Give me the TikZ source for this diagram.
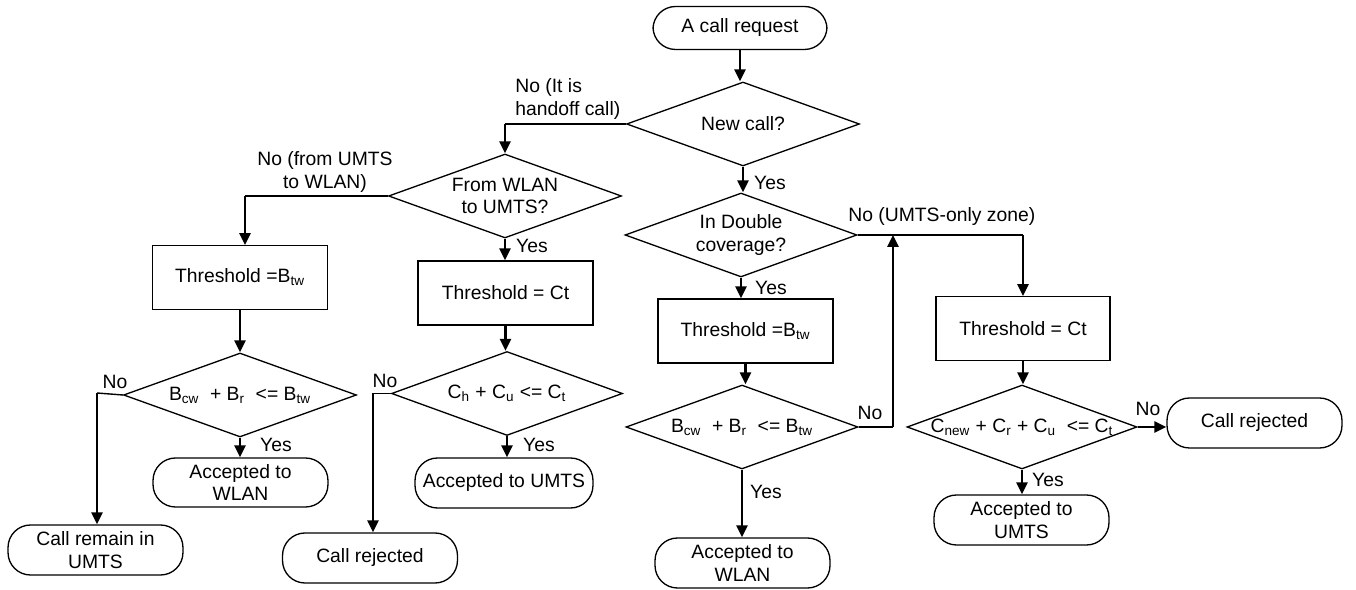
\documentclass[tikz,border=0pt]{standalone}
\usepackage{fontspec}
\setmainfont{Liberation Sans}
\usetikzlibrary{arrows.meta,shapes.geometric}
\begin{document}
\begin{tikzpicture}[x=0.02cm,y=-0.02cm,
  every node/.style={font=\fontsize{11}{13}\selectfont},
  term/.style={draw,line width=0.75pt,rounded corners=0.45cm,minimum width=3.5cm,minimum height=1cm,align=center,inner sep=1pt},
  proc/.style={draw,line width=0.75pt,minimum width=3.5cm,minimum height=1.27cm,align=center},
  dec/.style={draw,line width=0.75pt,diamond,minimum width=4.66cm,minimum height=1.68cm,inner sep=0pt},
  dectext/.style={align=center,inner sep=0pt},
  conn/.style={line width=1.5pt,-{Triangle[length=0.24cm,width=0.22cm]}},
  hline/.style={line width=0.8pt},
  lbl/.style={inner sep=0pt,align=center}
]
\useasboundingbox (0,0) rectangle (1356,590);

% nodes
\node[term,minimum width=3.48cm,minimum height=0.86cm] (start) at (740,28) {A call request};

\node[dec] (d1) at (743,124) {};
\node[dectext] (d1t) at (d1) {New call?};

\node[dec] (d2) at (505,196) {};
\node[dectext] (d2t) at (d2) {From WLAN\\to UMTS?};

\node[proc] (b1) at (240,277.5) {Threshold =B\textsubscript{tw}};
\node[dec] (d3) at (240,395) {};
\node[dectext] (d3t) at (d3) {B\textsubscript{cw}\ \ + B\textsubscript{r}\ \ <= B\textsubscript{tw}};
\node[term] (t1) at (95.5,550) {Call remain in\\UMTS};
\node[term,minimum height=0.98cm] (t2) at (240.5,482.5) {Accepted to\\WLAN};

\node[proc,minimum height=1.28cm] (b2) at (505.5,293) {Threshold = Ct};
\node[dec,minimum width=4.62cm] (d4) at (507,393.5) {};
\node[dectext] (d4t) at (d4) {C\textsubscript{h} + C\textsubscript{u} <= C\textsubscript{t}};
\node[term] (t3) at (370,558) {Call rejected};
\node[term,minimum width=3.56cm] (t4) at (504,483) {Accepted to UMTS};

\node[dec,minimum width=4.64cm] (d5) at (741,235) {};
\node[dectext] (d5t) at (d5) {In Double\\coverage?};
\node[proc,minimum height=1.28cm] (b3) at (745.5,331) {Threshold =B\textsubscript{tw}};
\node[dec,minimum width=4.64cm] (d6) at (742,427) {};
\node[dectext] (d6t) at (d6) {B\textsubscript{cw}\ \ + B\textsubscript{r}\ \ <= B\textsubscript{tw}};
\node[term] (t5) at (742.5,563) {Accepted to\\WLAN};

\node[proc,minimum width=3.48cm] (b4) at (1023,328.5) {Threshold = Ct};
\node[dec,minimum width=4.6cm] (d7) at (1022,427) {};
\node[dectext] (d7t) at (d7) {C\textsubscript{new} + C\textsubscript{r} + C\textsubscript{u}\ \ <= C\textsubscript{t}};
\node[term] (t6) at (1254.5,423) {Call rejected};
\node[term] (t7) at (1021.5,520) {Accepted to\\UMTS};

% junction coordinates
\coordinate (j1) at (d2.north |- d1.west);
\coordinate (j2) at (245,196);
\coordinate (j3) at (97,393);
\coordinate (j4) at (373,393.5);
\coordinate (j5) at (b4.north |- d5.east);
\coordinate (j6) at (893,427);

% connectors
\draw[conn] (start.south) -- (start.south |- d1.north);
\draw[hline] (d1.west) -- (j1);
\draw[conn] (j1) -- (d2.north);
\draw[conn] (d1.south) -- (d1.south |- d5.north);

\draw[hline] (d2.west) -- (j2);
\draw[conn] (j2) -- (j2 |- b1.north);
\draw[conn] (d2.south) -- (d2.south |- b2.north);

\draw[conn] (b1.south) -- (b1.south |- d3.north);
\draw[hline] (d3.west) -- (j3);
\draw[conn] (j3) -- (j3 |- t1.north);
\draw[conn] (d3.south) -- (d3.south |- t2.north);

\draw[conn] (b2.south) -- (b2.south |- d4.north);
\draw[hline] (d4.west) -- (j4);
\draw[conn] (j4) -- (j4 |- t3.north);
\draw[conn] (d4.south) -- (d4.south |- t4.north);

\draw[conn] (d5.south) -- (d5.south |- b3.north);
\draw[hline] (d5.east) -- (j5);
\draw[conn] (j5) -- (b4.north);
\draw[conn] (b3.south) -- (b3.south |- d6.north);
\draw[conn] (d6.south) -- (d6.south |- t5.north);
\draw[hline] (d6.east) -- (j6);
\draw[conn] (j6) -- (j6 |- d5.east);

\draw[conn] (b4.south) -- (b4.south |- d7.north);
\draw[conn] (d7.east) -- (d7.east -| t6.west);
\draw[conn] (d7.south) -- (d7.south |- t7.north);

% labels
\node[lbl,anchor=west,align=left] (l1) at (515,99) {No (It is\\handoff call)};
\node[lbl] (l2) at (770,183) {Yes};
\node[lbl] (l3) at (325,172) {No (from UMTS\\to WLAN)};
\node[lbl] (l4) at (532,246) {Yes};
\node[lbl] (l5) at (771,288) {Yes};
\node[lbl] (l6) at (115,382) {No};
\node[lbl] (l7) at (276,445) {Yes};
\node[lbl] (l8) at (385,381) {No};
\node[lbl] (l9) at (539,445) {Yes};
\node[lbl] (l10) at (766,492) {Yes};
\node[lbl] (l11) at (870,413) {No};
\node[lbl,anchor=west] (l12) at (848,217) {No (UMTS-only zone)};
\node[lbl] (l13) at (1148,409) {No};
\node[lbl] (l14) at (1048,480) {Yes};
\end{tikzpicture}
\end{document}
